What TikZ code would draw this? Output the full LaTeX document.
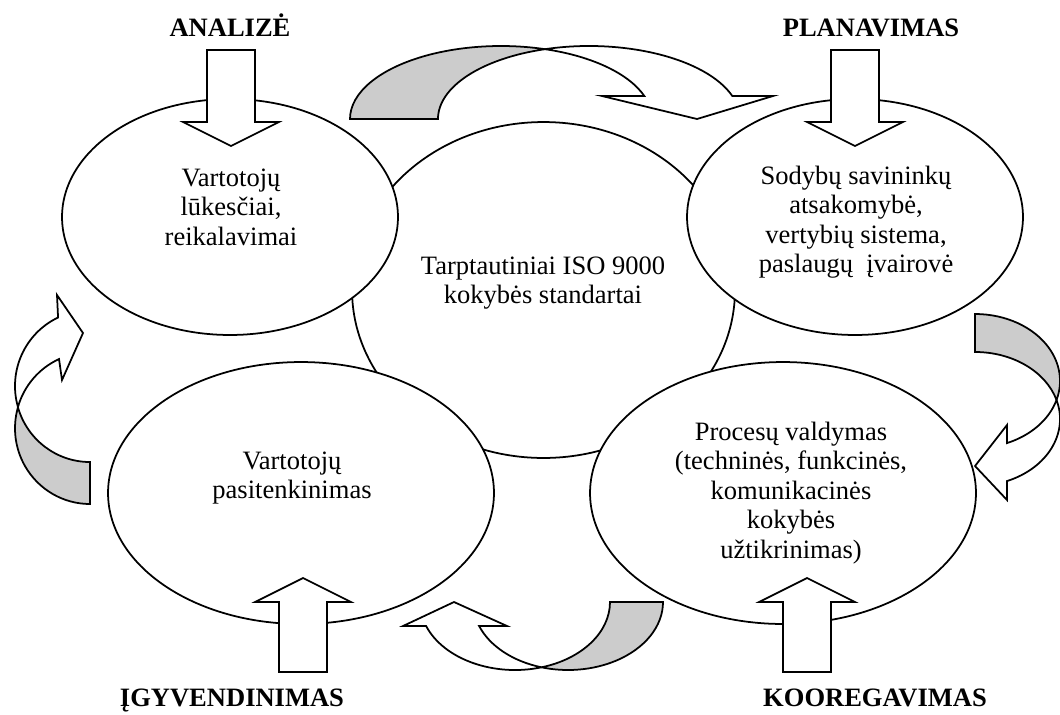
\documentclass[tikz,border=0pt]{standalone}
\usepackage{fontspec}
\setmainfont{Liberation Serif}
\usetikzlibrary{calc, shapes.geometric}
\definecolor{backgray}{HTML}{CCCCCC}
\tikzset{
  every picture/.style={line join=miter, font=\fontsize{15.1}{16.8}\selectfont},
  bubble/.style={draw, fill=white, ellipse, inner sep=0pt, line width=1pt},
  txt/.style={align=center, inner sep=0pt},
  stage/.style={font=\fontsize{15.1}{16.8}\selectfont\bfseries, inner sep=0pt, anchor=base},
  front/.style={draw, fill=white, line width=1pt},
  backside/.style={draw, fill=backgray, line width=1pt},
  % straight block arrows, local units are pixels of the sheet
  downblock/.pic={
    \filldraw[front] (-24,0) -- (24,0) -- (24,72) -- (48,72) -- (0,96) -- (-48,72) -- (-24,72) -- cycle;
  },
  upblock/.pic={
    \filldraw[front] (-24,0) -- (24,0) -- (24,-70) -- (48,-70) -- (0,-94) -- (-48,-70) -- (-24,-70) -- cycle;
  },
}

\begin{document}
\begin{tikzpicture}[x=0.02cm, y=-0.02cm]
  \useasboundingbox (0,0) rectangle (1060,714);
  % ellipses, the centre one first so the others lie over it
  \node[bubble, minimum width=7.66cm, minimum height=6.72cm] (iso) at (543.5,290) {};
  \node[bubble, minimum width=6.72cm, minimum height=4.72cm] (lukesciai) at (230,217) {};
  \node[bubble, minimum width=6.72cm, minimum height=4.72cm] (atsakomybe) at (855,217) {};
  \node[bubble, minimum width=7.72cm, minimum height=5.24cm] (pasitenkinimas) at (301,493) {};
  \node[bubble, minimum width=7.72cm, minimum height=5.24cm] (procesai) at (783,493) {};
  \node[txt] (t-iso) at (543,283) {Tarptautiniai ISO 9000\\kokybės standartai};
  \node[txt] (t-lukesciai) at (231,207) {Vartotojų\\lūkesčiai,\\reikalavimai};
  \node[txt] (t-atsakomybe) at (856,222) {Sodybų savininkų\\atsakomybė,\\vertybių sistema,\\paslaugų~ įvairovė};
  \node[txt] (t-pasitenkinimas) at (292,478) {Vartotojų\\pasitenkinimas};
  \node[txt] (t-procesai) at (791,493) {Procesų valdymas\\(techninės, funkcinės,\\komunikacinės\\kokybės\\užtikrinimas)};
  % straight arrows into the ellipses
  \pic at (231,50) {downblock};
  \pic at (855,50) {downblock};
  \pic at (303,672) {upblock};
  \pic at (807,672) {upblock};
  % curved arrows: grey = back of the ribbon, white = front with the head
  % top, pointing down to the right
  \filldraw[backside] (350,119) arc[start angle=180, end angle=286.94, x radius=151, y radius=73]
    arc[start angle=253.06, end angle=180, x radius=151, y radius=73] -- cycle;
  \filldraw[front] ($(501,119)+(286.94:151 and 73)$) arc[start angle=253.06, end angle=341.63, x radius=151, y radius=73]
    -- (773,96) -- (697,119) -- (602,96) -- ($(501,119)+(341.63:151 and 73)$)
    arc[start angle=341.63, end angle=286.94, x radius=151, y radius=73] -- cycle;
  % right, pointing left
  \filldraw[backside] (975,314) arc[start angle=270, end angle=376.47, x radius=85, y radius=67]
    arc[start angle=343.53, end angle=270, x radius=85, y radius=67] -- cycle;
  \filldraw[front] ($(975,381)+(16.47:85 and 67)$) arc[start angle=16.47, end angle=67.9, x radius=85, y radius=67]
    -- (1007,425) -- (975,466) -- (1007,500) -- ($(975,419)+(67.9:85 and 67)$)
    arc[start angle=67.9, end angle=-16.47, x radius=85, y radius=67] -- cycle;
  % bottom, pointing up to the left
  \filldraw[backside] (663,602) arc[start angle=0, end angle=106.2, x radius=95, y radius=68]
    arc[start angle=73.8, end angle=0, x radius=95, y radius=68] -- cycle;
  \filldraw[front] ($(515,602)+(73.8:95 and 68)$) arc[start angle=73.8, end angle=159.3, x radius=95, y radius=68]
    -- (403,626) -- (454,602) -- (507,626) -- ($(568,602)+(159.3:95 and 68)$)
    arc[start angle=159.3, end angle=106.2, x radius=95, y radius=68] -- cycle;
  % left, pointing up to the right
  \filldraw[backside] (90,504) arc[start angle=90, end angle=196.1, x radius=75, y radius=75.7]
    arc[start angle=163.9, end angle=90, x radius=75, y radius=75.7] -- cycle;
  \filldraw[front] ($(90,386)+(163.9:75 and 75.7)$) arc[start angle=163.9, end angle=244.8, x radius=75, y radius=75.7]
    -- (57,295) -- (83,333) -- (62,380) -- ($(90,428)+(245.6:75 and 75.7)$)
    arc[start angle=245.6, end angle=196.1, x radius=75, y radius=75.7] -- cycle;
  % stage names
  \node[stage] (analize) at (230,36) {ANALIZĖ};
  \node[stage] (planavimas) at (871,36) {PLANAVIMAS};
  \node[stage] (igyvendinimas) at (232,706) {ĮGYVENDINIMAS};
  \node[stage] (kooregavimas) at (875,706) {KOOREGAVIMAS};
\end{tikzpicture}
\end{document}
